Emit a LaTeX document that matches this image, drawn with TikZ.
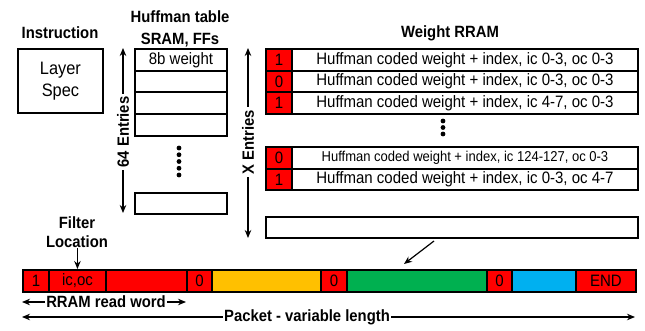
\documentclass[tikz,border=0pt]{standalone}
\usepackage{fontspec}
\setmainfont{Liberation Sans}[FakeStretch=0.91]
\usetikzlibrary{arrows.meta}
\definecolor{pred}{HTML}{FF0000}
\definecolor{porange}{HTML}{FFC000}
\definecolor{pgreen}{HTML}{00B050}
\definecolor{pblue}{HTML}{00B0F0}
\tikzset{
  ttl/.style={font=\fontsize{16.3}{20}\selectfont\bfseries, inner sep=1pt, align=center},
  txt/.style={font=\fontsize{16.5}{18}\selectfont},
  cellbox/.style={draw=black, line width=1.9pt, rectangle, inner sep=0pt, anchor=north west},
  arr/.style={line width=1.2pt, -{Stealth[length=8pt,width=6.5pt]}},
  dot/.style={circle, fill=black, inner sep=0pt, minimum size=4.8pt}
}
\newcommand{\cellat}[6]{% name, x1, y1, x2, y2, style
  \node[cellbox, #6, minimum width={(#4-#2)*1pt}, minimum height={(#5-#3)*1pt}] (#1) at (#2,#3) {};}
\begin{document}
\begin{tikzpicture}[x=1pt,y=-1pt]
\useasboundingbox (0,0) rectangle (645,331);

% Instruction
\node[ttl] (instr) at (60,33) {Instruction};
\cellat{layer}{17}{48}{102}{112}{fill=white}
\node[font=\fontsize{18}{22}\selectfont, align=center] (layertxt) at (layer.center) {Layer\\Spec};

% Huffman table
\node[ttl, font=\fontsize{16.3}{22}\selectfont\bfseries] (htitle) at (180,29) {Huffman table\\SRAM, FFs};
\cellat{h1}{134}{48}{226}{69.75}{fill=white}
\cellat{h2}{134}{69.75}{226}{91.5}{fill=white}
\cellat{h3}{134}{91.5}{226}{113.25}{fill=white}
\cellat{h4}{134}{113.25}{226}{135}{fill=white}
\cellat{h5}{134}{192}{226}{213}{fill=white}
\node[txt] (h1t) at (h1.center) {8b weight};
\foreach \i/\yy in {1/148,2/154.75,3/161.5,4/168.25,5/175} {
  \node[dot] (hd\i) at (179,\yy) {};
}

% 64 Entries
\coordinate (e64t) at (123,48);
\coordinate (e64b) at (123,213);
\node[ttl, rotate=90, inner sep=2.5pt] (t64) at (123,132) {64 Entries};
\draw[arr] (t64) -- (e64t);
\draw[arr] (t64) -- (e64b);

% X Entries
\coordinate (ext) at (248,48);
\coordinate (exb) at (248,238);
\node[ttl, rotate=90, inner sep=3pt] (tx) at (248,142) {X Entries};
\draw[arr] (tx) -- (ext);
\draw[arr] (tx) -- (exb);

% Weight RRAM
\node[ttl] (wtitle) at (450,33) {Weight RRAM};
\foreach \n/\ya/\yb/\b/\t in {
  1/48/69.75/1/{Huffman coded weight + index, ic 0-3, oc 0-3},
  2/69.75/91.5/0/{Huffman coded weight + index, ic 0-3, oc 0-3},
  3/91.5/113.25/1/{Huffman coded weight + index, ic 4-7, oc 0-3},
  5/167.75/189.5/1/{Huffman coded weight + index, ic 0-3, oc 4-7}} {
  \cellat{wb\n}{265}{\ya}{291}{\yb}{fill=pred}
  \cellat{wr\n}{291}{\ya}{637}{\yb}{fill=white}
  \node[txt] at (wb\n.center) {\b};
  \node[txt] at (wr\n.center) {\t};
}
\cellat{wb4}{265}{146}{291}{167.75}{fill=pred}
\cellat{wr4}{291}{146}{637}{167.75}{fill=white}
\node[txt] at (wb4.center) {0};
\node[font=\fontsize{14.3}{16}\selectfont] at (wr4.center) {Huffman coded weight + index, ic 124-127, oc 0-3};
\foreach \i/\yy in {1/121,2/127.5,3/134} {
  \node[dot] (wd\i) at (443,\yy) {};
}
\cellat{wempty}{265}{216}{637}{237}{fill=white}

% Packet
\cellat{c1}{22}{269}{48}{291}{fill=pred}
\cellat{c2}{48}{269}{105}{291}{fill=pred}
\cellat{c3}{105}{269}{186}{291}{fill=pred}
\cellat{c4}{186}{269}{211}{291}{fill=pred}
\cellat{c5}{211}{269}{320}{291}{fill=porange}
\cellat{c6}{320}{269}{346}{291}{fill=pred}
\cellat{c7}{346}{269}{486}{291}{fill=pgreen}
\cellat{c8}{486}{269}{511}{291}{fill=pred}
\cellat{c9}{511}{269}{575}{291}{fill=pblue}
\cellat{c10}{575}{269}{635}{291}{fill=pred}
\node[txt] at (c1.center) {1};
\node[txt] at (c2.center) {ic,oc};
\node[txt] at (c4.center) {0};
\node[txt] at (c6.center) {0};
\node[txt] at (c8.center) {0};
\node[txt] at (c10.center) {END};

% Arrow from RRAM to packet
\coordinate (rs) at (434,241);
\coordinate (re) at (404,264);
\draw[arr] (rs) -- (re);

% Filter Location
\node[ttl, font=\fontsize{16.3}{19}\selectfont\bfseries, inner sep=0.5pt] (filt) at (77,232) {Filter\\Location};
\draw[arr] (filt.south -| c2.center) -- (c2.north);

% RRAM read word
\coordinate (rwl) at (22,302);
\coordinate (rwr) at (186,302);
\node[ttl, inner sep=1pt] (rw) at (106,302) {RRAM read word};
\draw[arr] (rw) -- (rwl);
\draw[arr] (rw) -- (rwr);

% Packet - variable length
\coordinate (pkl) at (22,317);
\coordinate (pkr) at (635,317);
\node[ttl, inner sep=1pt] (pk) at (307,317) {Packet - variable length};
\draw[arr] (pk) -- (pkl);
\draw[arr] (pk) -- (pkr);
\end{tikzpicture}
\end{document}
